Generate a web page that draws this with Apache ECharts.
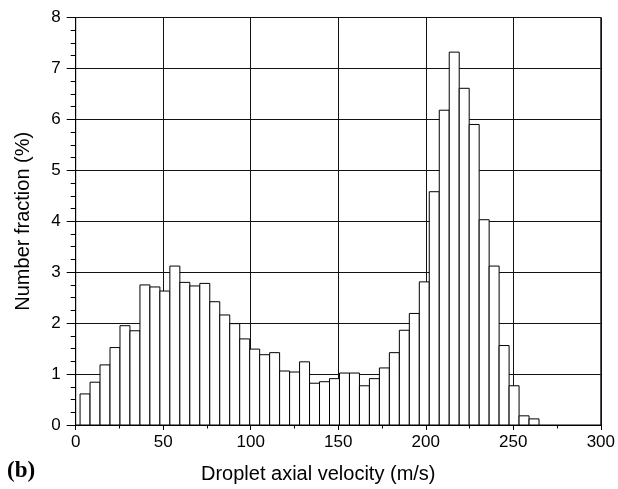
<!DOCTYPE html>
<html>
<head>
<meta charset="utf-8">
<script src="https://cdn.jsdelivr.net/npm/echarts@6/dist/echarts.min.js"></script>
<style>
  html, body { margin: 0; padding: 0; background: #fff; }
  #chart { width: 618px; height: 489px; }
</style>
</head>
<body>
<div id="chart"></div>
<script>
// Histogram of droplet axial velocity: equal-width bins starting at binStart
const binStart = 2.5;     // m/s, left edge of the first bin
const binWidth = 5.7;     // m/s, width of every bin
const fractions = [
  0.61, 0.84, 1.18, 1.52, 1.95, 1.85, 2.75, 2.71, 2.63, 3.12,
  2.80, 2.73, 2.78, 2.42, 2.16, 1.99, 1.69, 1.49, 1.38, 1.42,
  1.06, 1.04, 1.24, 0.82, 0.85, 0.91, 1.02, 1.02, 0.77, 0.91,
  1.12, 1.42, 1.86, 2.19, 2.81, 4.58, 6.18, 7.32, 6.61, 5.90,
  4.03, 3.12, 1.56, 0.77, 0.18, 0.12
];
const xTicks = [0, 50, 100, 150, 200, 250, 300];
const yTicks = [0, 1, 2, 3, 4, 5, 6, 7, 8];

const binData = fractions.map((v, i) => [binStart + i * binWidth, binStart + (i + 1) * binWidth, v]);

const font = 'Liberation Sans, Arial, Helvetica, sans-serif';
const chart = echarts.init(document.getElementById('chart'), null, { renderer: 'canvas' });

chart.setOption({
  animation: false,
  backgroundColor: '#fff',
  grid: {
    left: 75.7, right: 16.3, top: 17.5, bottom: 62.3,
    show: true, borderColor: '#000', borderWidth: 1, backgroundColor: 'transparent'
  },
  xAxis: {
    type: 'value',
    min: xTicks[0], max: xTicks[xTicks.length - 1], interval: 50,
    name: 'Droplet axial velocity (m/s)',
    nameLocation: 'middle', nameGap: 39,
    nameTextStyle: { fontFamily: font, fontSize: 20, color: '#000', padding: [0, 40, 0, 0] },
    axisLine: { show: true, lineStyle: { color: '#000', width: 1 } },
    axisTick: { show: true, inside: false, length: 5, lineStyle: { color: '#000' } },
    minorTick: { show: true, splitNumber: 2, length: 3.5, lineStyle: { color: '#000' } },
    axisLabel: { fontFamily: font, fontSize: 17, color: '#000', margin: 9 },
    splitLine: { show: true, lineStyle: { color: '#111', width: 1 } }
  },
  yAxis: {
    type: 'value',
    min: yTicks[0], max: yTicks[yTicks.length - 1], interval: 1,
    name: 'Number fraction (%)',
    nameLocation: 'middle', nameGap: 42, nameRotate: 90,
    nameTextStyle: { fontFamily: font, fontSize: 20, color: '#000' },
    axisLine: { show: true, lineStyle: { color: '#000', width: 1 } },
    axisTick: { show: true, inside: false, length: 9, lineStyle: { color: '#000' } },
    minorTick: { show: true, splitNumber: 4, length: 5, lineStyle: { color: '#000' } },
    axisLabel: { fontFamily: font, fontSize: 17, color: '#000', margin: 15 },
    splitLine: { show: true, lineStyle: { color: '#111', width: 1 } }
  },
  graphic: [{
    type: 'text', left: 7, top: 460,
    style: { text: '(b)', font: 'bold 23px "Liberation Serif", "Times New Roman", serif', fill: '#000' }
  }],
  series: [{
    type: 'custom',
    data: binData,
    encode: { x: [0, 1], y: 2 },
    z: 3,
    renderItem: function (params, api) {
      const p0 = api.coord([api.value(0), 0]);
      const p1 = api.coord([api.value(1), api.value(2)]);
      return {
        type: 'rect',
        shape: { x: p0[0], y: p1[1], width: p1[0] - p0[0], height: p0[1] - p1[1] },
        style: { fill: '#fff', stroke: '#000', lineWidth: 1 }
      };
    }
  }]
});
</script>
</body>
</html>
